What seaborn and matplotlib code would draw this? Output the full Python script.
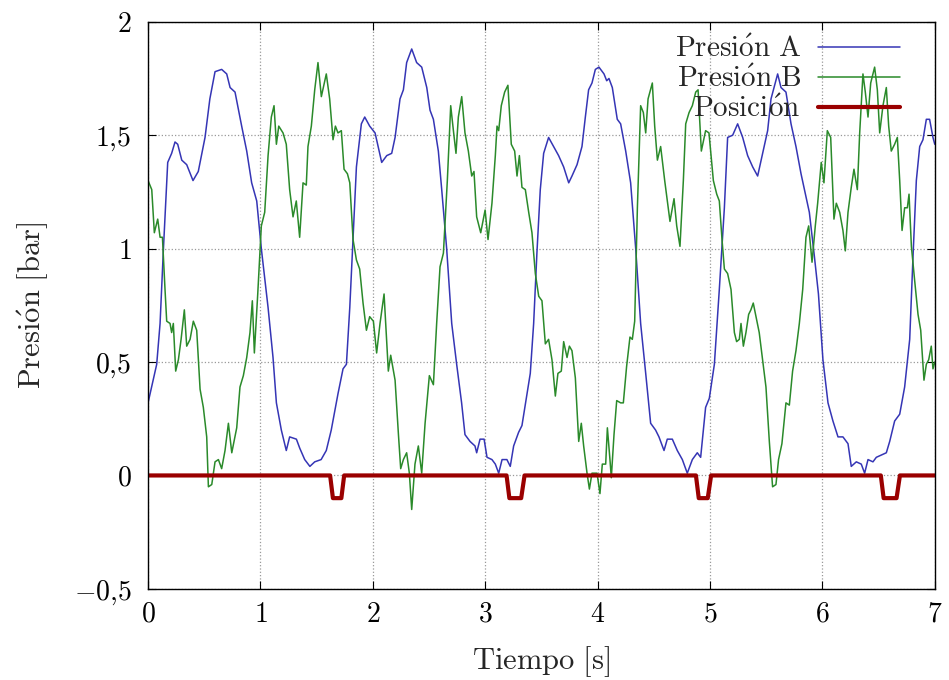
import matplotlib
matplotlib.use('Agg')
import matplotlib.pyplot as plt
import seaborn as sns
import pandas as pd

# Presión A (blue)
pa_t = [0.0, 0.077, 0.107, 0.136, 0.175, 0.21, 0.24, 0.264, 0.30, 0.344,
        0.40, 0.447, 0.507, 0.55, 0.596, 0.655, 0.70, 0.73, 0.774, 0.833,
        0.878, 0.922, 0.967, 1.008, 1.068, 1.112, 1.142, 1.186, 1.23, 1.26,
        1.32, 1.35, 1.394, 1.44, 1.483, 1.54, 1.586, 1.63, 1.69, 1.735,
        1.765, 1.795, 1.824, 1.854, 1.898, 1.928, 1.972, 2.02, 2.079, 2.124,
        2.168, 2.198, 2.242, 2.272, 2.301, 2.346, 2.39, 2.435, 2.48, 2.509,
        2.539, 2.583, 2.613, 2.657, 2.702, 2.746, 2.79, 2.82, 2.865, 2.909,
        2.924, 2.954, 2.99, 3.016, 3.06, 3.09, 3.12, 3.15, 3.193, 3.223,
        3.253, 3.297, 3.327, 3.372, 3.401, 3.431, 3.46, 3.49, 3.52, 3.564,
        3.609, 3.653, 3.698, 3.743, 3.772, 3.817, 3.861, 3.891, 3.92, 3.95,
        3.98, 4.012, 4.057, 4.081, 4.101, 4.131, 4.175, 4.205, 4.25, 4.294,
        4.339, 4.383, 4.428, 4.472, 4.516, 4.546, 4.591, 4.62, 4.665, 4.709,
        4.754, 4.798, 4.843, 4.887, 4.917, 4.961, 4.994, 5.039, 5.083, 5.128,
        5.157, 5.202, 5.246, 5.291, 5.335, 5.38, 5.424, 5.469, 5.513, 5.543,
        5.602, 5.632, 5.676, 5.721, 5.765, 5.81, 5.854, 5.884, 5.928, 5.965,
        6.005, 6.05, 6.094, 6.139, 6.183, 6.228, 6.257, 6.302, 6.346, 6.376,
        6.406, 6.45, 6.48, 6.524, 6.569, 6.599, 6.643, 6.688, 6.732, 6.777,
        6.806, 6.836, 6.866, 6.895, 6.925, 6.954, 6.984, 7.0]
pa_v = [0.32, 0.49, 0.67, 0.99, 1.38, 1.42, 1.47, 1.46, 1.39, 1.37,
        1.30, 1.34, 1.49, 1.66, 1.78, 1.79, 1.77, 1.71, 1.69, 1.54,
        1.43, 1.29, 1.21, 1.00, 0.74, 0.52, 0.32, 0.20, 0.11, 0.17,
        0.16, 0.12, 0.07, 0.04, 0.06, 0.07, 0.11, 0.20, 0.36, 0.47,
        0.49, 0.74, 1.04, 1.36, 1.55, 1.58, 1.54, 1.51, 1.38, 1.41,
        1.42, 1.49, 1.66, 1.70, 1.82, 1.88, 1.82, 1.80, 1.71, 1.61,
        1.57, 1.43, 1.26, 1.00, 0.67, 0.49, 0.32, 0.18, 0.15, 0.13,
        0.10, 0.16, 0.16, 0.08, 0.07, 0.05, 0.01, 0.07, 0.07, 0.04,
        0.13, 0.19, 0.22, 0.36, 0.45, 0.67, 0.98, 1.26, 1.42, 1.49,
        1.45, 1.41, 1.36, 1.29, 1.32, 1.37, 1.45, 1.58, 1.70, 1.73,
        1.79, 1.80, 1.77, 1.74, 1.75, 1.71, 1.57, 1.55, 1.43, 1.29,
        1.00, 0.67, 0.45, 0.23, 0.20, 0.17, 0.11, 0.16, 0.16, 0.11,
        0.07, 0.01, 0.07, 0.10, 0.08, 0.30, 0.34, 0.49, 0.82, 1.18,
        1.49, 1.50, 1.55, 1.49, 1.41, 1.36, 1.32, 1.42, 1.52, 1.66,
        1.77, 1.71, 1.69, 1.55, 1.45, 1.33, 1.23, 1.16, 0.97, 0.80,
        0.51, 0.32, 0.24, 0.17, 0.17, 0.14, 0.04, 0.06, 0.05, 0.01,
        0.07, 0.06, 0.08, 0.09, 0.10, 0.15, 0.24, 0.27, 0.39, 0.60,
        0.96, 1.30, 1.45, 1.48, 1.57, 1.57, 1.49, 1.46]

# Presión B (green)
pb_t = [0.0, 0.033, 0.056, 0.086, 0.107, 0.128, 0.151, 0.166, 0.196, 0.21,
        0.225, 0.246, 0.27, 0.294, 0.323, 0.344, 0.374, 0.403, 0.433, 0.463,
        0.492, 0.522, 0.537, 0.567, 0.596, 0.626, 0.655, 0.685, 0.715, 0.745,
        0.789, 0.818, 0.848, 0.878, 0.907, 0.928, 0.946, 0.976, 1.008, 1.038,
        1.068, 1.097, 1.121, 1.142, 1.163, 1.201, 1.23, 1.26, 1.29, 1.319,
        1.349, 1.379, 1.408, 1.423, 1.453, 1.483, 1.512, 1.542, 1.586, 1.616,
        1.646, 1.667, 1.69, 1.72, 1.744, 1.774, 1.795, 1.824, 1.854, 1.883,
        1.913, 1.943, 1.972, 2.005, 2.034, 2.064, 2.1, 2.138, 2.159, 2.198,
        2.228, 2.248, 2.272, 2.301, 2.325, 2.346, 2.375, 2.405, 2.435, 2.465,
        2.503, 2.539, 2.568, 2.598, 2.628, 2.663, 2.693, 2.717, 2.74, 2.761,
        2.791, 2.82, 2.85, 2.88, 2.9, 2.924, 2.96, 2.999, 3.025, 3.06,
        3.09, 3.105, 3.12, 3.143, 3.173, 3.202, 3.232, 3.262, 3.283, 3.304,
        3.327, 3.357, 3.387, 3.416, 3.446, 3.476, 3.505, 3.535, 3.564, 3.594,
        3.624, 3.647, 3.677, 3.698, 3.728, 3.749, 3.772, 3.802, 3.832, 3.855,
        3.876, 3.906, 3.927, 3.95, 3.995, 4.021, 4.042, 4.072, 4.087, 4.11,
        4.122, 4.146, 4.17, 4.205, 4.229, 4.258, 4.288, 4.309, 4.33, 4.354,
        4.383, 4.407, 4.428, 4.449, 4.487, 4.508, 4.532, 4.561, 4.597, 4.644,
        4.68, 4.704, 4.733, 4.763, 4.784, 4.814, 4.843, 4.873, 4.894, 4.923,
        4.961, 4.991, 5.03, 5.06, 5.083, 5.107, 5.128, 5.157, 5.187, 5.217,
        5.237, 5.261, 5.276, 5.297, 5.32, 5.344, 5.364, 5.385, 5.409, 5.438,
        5.468, 5.498, 5.528, 5.557, 5.587, 5.61, 5.64, 5.676, 5.706, 5.735,
        5.765, 5.795, 5.825, 5.854, 5.878, 5.908, 5.937, 5.958, 5.99, 6.014,
        6.044, 6.074, 6.103, 6.124, 6.154, 6.183, 6.204, 6.228, 6.257, 6.281,
        6.311, 6.332, 6.361, 6.382, 6.406, 6.43, 6.465, 6.489, 6.51, 6.539,
        6.569, 6.59, 6.613, 6.643, 6.667, 6.688, 6.709, 6.732, 6.756, 6.771,
        6.792, 6.821, 6.851, 6.875, 6.904, 6.925, 6.946, 6.969, 6.984, 7.0]
pb_v = [1.30, 1.26, 1.07, 1.13, 1.05, 1.05, 0.82, 0.68, 0.67, 0.63,
        0.67, 0.46, 0.51, 0.60, 0.73, 0.57, 0.60, 0.68, 0.64, 0.38,
        0.30, 0.17, -0.05, -0.04, 0.06, 0.07, 0.03, 0.11, 0.23, 0.10,
        0.21, 0.39, 0.44, 0.52, 0.63, 0.77, 0.54, 0.80, 1.10, 1.16,
        1.41, 1.58, 1.63, 1.46, 1.54, 1.51, 1.46, 1.26, 1.14, 1.21,
        1.05, 1.29, 1.28, 1.45, 1.54, 1.70, 1.82, 1.67, 1.77, 1.66,
        1.48, 1.54, 1.51, 1.52, 1.35, 1.33, 1.29, 1.04, 0.95, 0.91,
        0.76, 0.64, 0.70, 0.68, 0.54, 0.67, 0.80, 0.46, 0.53, 0.42,
        0.18, 0.03, 0.07, 0.10, 0.01, -0.15, 0.05, 0.13, 0.01, 0.23,
        0.44, 0.40, 0.67, 0.92, 0.98, 1.30, 1.63, 1.52, 1.42, 1.58,
        1.67, 1.51, 1.43, 1.32, 1.34, 1.14, 1.07, 1.17, 1.04, 1.20,
        1.41, 1.54, 1.52, 1.63, 1.69, 1.72, 1.46, 1.43, 1.32, 1.41,
        1.27, 1.26, 1.16, 1.07, 0.89, 0.79, 0.77, 0.58, 0.60, 0.51,
        0.35, 0.45, 0.46, 0.59, 0.52, 0.57, 0.55, 0.43, 0.15, 0.23,
        0.13, 0.01, -0.06, 0.01, 0.01, -0.08, 0.05, 0.05, 0.21, 0.07,
        -0.01, 0.18, 0.33, 0.32, 0.32, 0.48, 0.61, 0.60, 0.68, 1.18,
        1.63, 1.60, 1.51, 1.66, 1.73, 1.54, 1.39, 1.45, 1.30, 1.12,
        1.22, 1.10, 1.01, 1.30, 1.55, 1.60, 1.63, 1.69, 1.70, 1.43,
        1.52, 1.51, 1.30, 1.24, 1.21, 1.04, 0.91, 0.89, 0.82, 0.63,
        0.59, 0.60, 0.67, 0.57, 0.63, 0.71, 0.73, 0.76, 0.70, 0.63,
        0.51, 0.39, 0.15, -0.05, -0.04, 0.07, 0.14, 0.32, 0.31, 0.46,
        0.55, 0.67, 0.82, 1.05, 1.10, 0.94, 1.10, 1.20, 1.38, 1.29,
        1.52, 1.49, 1.13, 1.20, 1.16, 1.08, 0.99, 1.16, 1.27, 1.35,
        1.26, 1.51, 1.77, 1.69, 1.58, 1.73, 1.80, 1.70, 1.51, 1.63,
        1.71, 1.54, 1.43, 1.46, 1.49, 1.30, 1.08, 1.18, 1.18, 1.24,
        1.01, 0.86, 0.71, 0.64, 0.42, 0.49, 0.51, 0.57, 0.47, 0.50]

# Posición (dark red)
pos_t = [0.0, 1.62, 1.645, 1.72, 1.745, 3.19, 3.215, 3.32, 3.35,
         4.875, 4.90, 4.98, 5.01, 6.52, 6.545, 6.66, 6.69, 7.0]
pos_v = [0.0, 0.0, -0.1, -0.1, 0.0, 0.0, -0.1, -0.1, 0.0,
         0.0, -0.1, -0.1, 0.0, 0.0, -0.1, -0.1, 0.0, 0.0]

labels = [r'$\mathrm{Presi\acute{o}n\ A}$', r'$\mathrm{Presi\acute{o}n\ B}$',
          r'$\mathrm{Posici\acute{o}n}$']
xticks = [0, 1, 2, 3, 4, 5, 6, 7]
xtick_labels = ['$0$', '$1$', '$2$', '$3$', '$4$', '$5$', '$6$', '$7$']
yticks = [-0.5, 0, 0.5, 1, 1.5, 2]
ytick_labels = [r'$-0{,}5$', '$0$', r'$0{,}5$', '$1$', r'$1{,}5$', '$2$']

sns.set_theme(style='white')
plt.rcParams['font.family'] = ['cmr10', 'DejaVu Serif']
plt.rcParams['mathtext.fontset'] = 'cm'

fig = plt.figure(figsize=(9.49, 6.8), dpi=100)
ax = fig.add_axes([0.156, 0.134, 0.829, 0.834])

df_a = pd.DataFrame({'t': pa_t, 'p': pa_v})
df_b = pd.DataFrame({'t': pb_t, 'p': pb_v})
df_pos = pd.DataFrame({'t': pos_t, 'p': pos_v})

sns.lineplot(data=df_a, x='t', y='p', ax=ax, color='#3535b5', linewidth=1.1,
             estimator=None, sort=False, label=labels[0])
sns.lineplot(data=df_b, x='t', y='p', ax=ax, color='#2a8a2a', linewidth=1.1,
             estimator=None, sort=False, label=labels[1])
sns.lineplot(data=df_pos, x='t', y='p', ax=ax, color='#9a0000', linewidth=3.0,
             estimator=None, sort=False, label=labels[2])

ax.set_xlim(0, 7)
ax.set_ylim(-0.5, 2)
ax.set_xticks(xticks)
ax.set_xticklabels(xtick_labels, fontsize=20)
ax.set_yticks(yticks)
ax.set_yticklabels(ytick_labels, fontsize=20)
ax.tick_params(axis='y', pad=12)
ax.tick_params(axis='x', pad=9)
ax.tick_params(direction='in', length=6, width=0.8, top=True, right=True,
               bottom=True, left=True, colors='black')
ax.grid(True, linestyle=':', color='#999999', linewidth=0.9)
for s in ax.spines.values():
    s.set_color('black')
    s.set_linewidth(1.0)

ax.set_xlabel(r'$\mathrm{Tiempo\ [s]}$', fontsize=22, labelpad=12)
ax.set_ylabel(r'$\mathrm{Presi\acute{o}n\ [bar]}$', fontsize=22, labelpad=16)

ax.legend(loc='upper right', bbox_to_anchor=(0.9555, 0.975), frameon=False,
          markerfirst=False, fontsize=21, handlelength=2.8, handletextpad=0.6,
          labelspacing=0.1, borderaxespad=0, borderpad=0)

fig.savefig('out.png', dpi=100)
